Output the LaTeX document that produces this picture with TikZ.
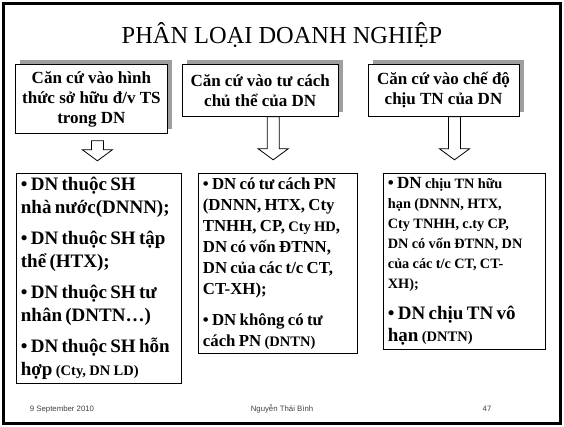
\documentclass[tikz,border=0pt]{standalone}
\usepackage{fontspec}
\setmainfont{Liberation Serif}
\newfontfamily\footfont{Liberation Sans}
\usetikzlibrary{positioning, calc, shadows}

% hollow block arrow pointing down: #1 = top centre, #2 = shaft length
\newcommand{\hollowdown}[2]{%
  \draw[blockarrow] #1 ++(-6,0) -- ++(12,0) -- ++(0,#2) -- ++(9,0) -- ++(-15,11) -- ++(-15,-11) -- ++(9,0) -- cycle;}

\begin{document}
\begin{tikzpicture}[
        x=1pt, y=-1pt,
        topbox/.style={rectangle, draw, line width=0.8pt, fill=white, align=center, inner sep=0pt, anchor=north west,
            font=\bfseries\fontsize{17}{20}\selectfont,
            general shadow={fill=gray!75, shadow xshift=5pt, shadow yshift=4pt}},
        listbox/.style={rectangle, draw, line width=0.8pt, align=left, anchor=north west, inner xsep=4.5pt, inner ysep=4pt, font=\bfseries},
        blockarrow/.style={draw, line width=0.8pt, fill=white},
        footer/.style={font=\footfont\fontsize{7.8}{9}\selectfont, text=black!75}
        ]

        \useasboundingbox (0,0) rectangle (564,427);
        \draw[line width=2.5pt] (3.5,3.5) rectangle (560.5,423.5);

        \node[font=\fontsize{24.4}{28}\selectfont] (title) at (282,35) {PHÂN LOẠI DOANH NGHIỆP};

        % criteria
        \node[topbox, minimum width=152pt, minimum height=69pt] (cc1) at (15,64) {Căn cứ vào hình\\thức sở hữu đ/v TS\\trong DN};
        \node[topbox, minimum width=156pt, minimum height=52pt, right=14pt of cc1.north east, anchor=north west] (cc2) {Căn cứ vào tư cách\\chủ thể của DN};
        \node[topbox, minimum width=151pt, minimum height=52pt, right=29pt of cc2.north east, anchor=north west] (cc3) {Căn cứ vào chế độ\\chịu TN của DN};

        \hollowdown{($(cc1.south)+(6,7)$)}{9}
        \hollowdown{($(cc2.south)+(13,0)$)}{32}
        \hollowdown{($(cc3.south)+(11,0)$)}{32}

        % kinds of enterprise
        \node[listbox, text width=156pt] (ds1) at (16,173) {%
            {\fontsize{19}{22.5}\selectfont • DN thuộc SH\\nhà nước(DNNN);\par}\vspace{9pt}
            {\fontsize{19}{22.5}\selectfont • DN thuộc SH tập\\thể (HTX);\par}\vspace{9pt}
            {\fontsize{19}{22.5}\selectfont • DN thuộc SH tư\\nhân (DNTN…)\par}\vspace{9pt}
            {\fontsize{19}{22.5}\selectfont • DN thuộc SH hỗn\\hợp {\fontsize{14.5}{17}\selectfont (Cty, DN LD)}\par}};
        \node[listbox, text width=150pt] (ds2) at (198,173) {%
            {\fontsize{16.8}{21}\selectfont • DN có tư cách PN\\(DNNN, HTX, Cty\\TNHH, CP, {\fontsize{14.5}{17}\selectfont Cty HD},\\DN có vốn ĐTNN,\\DN của các t/c CT,\\CT-XH);\par}\vspace{10pt}
            {\fontsize{16.8}{21}\selectfont • DN không có tư\\cách PN {\fontsize{14.5}{17}\selectfont (DNTN)}\par}};
        \node[listbox, text width=153pt] (ds3) at (383,173) {%
            {\fontsize{14.3}{20}\selectfont {\fontsize{17}{20}\selectfont • DN} chịu TN hữu\\hạn (DNNN, HTX,\\Cty TNHH, c.ty CP,\\DN có vốn ĐTNN, DN\\của các t/c CT, CT-\\XH);\par}\vspace{8pt}
            {\fontsize{19}{22.5}\selectfont • DN chịu TN vô\\hạn {\fontsize{14.5}{17}\selectfont (DNTN)}\par}};

        \node[footer] (date) at (62,409) {9 September 2010};
        \node[footer] (author) at (282,409) {Nguyễn Thái Bình};
        \node[footer] (page) at (487,409) {47};
    \end{tikzpicture}
\end{document}
